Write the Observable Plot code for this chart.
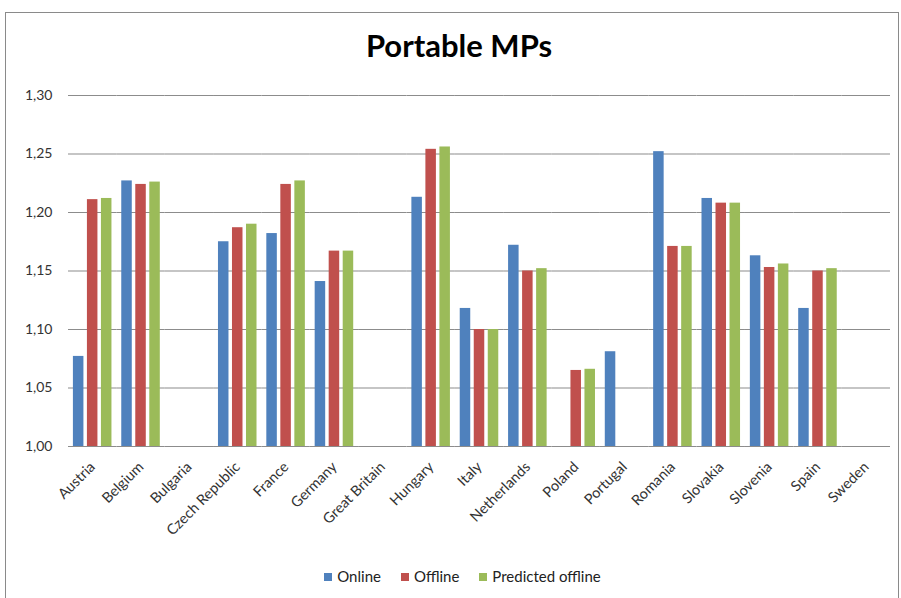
<!DOCTYPE html>
<html>
<head>
<meta charset="utf-8">
<script src="https://cdn.jsdelivr.net/npm/d3@7"></script>
<script src="https://cdn.jsdelivr.net/npm/@observablehq/plot@0.6"></script>
<style>
  html, body { margin: 0; padding: 0; background: #fff; width: 901px; height: 598px; overflow: hidden; }
  #frame { position: absolute; left: 5px; top: 12px; width: 894px; height: 620px; border: 1px solid #8a8a8a; box-sizing: border-box; }
  #title { position: absolute; left: 0; width: 918px; top: 26px; text-align: center; font: bold 31px Lato, "Open Sans", sans-serif; color: #000; }
  #chart { position: absolute; left: 0; top: 0; }
  #legend { position: absolute; left: 0; width: 925px; top: 567px; text-align: center; font: 15px Lato, "Open Sans", sans-serif; color: #222; }
  #legend span.item { display: inline-block; margin: 0 10px; }
  #legend span.sw { display: inline-block; width: 8px; height: 8px; margin-right: 5px; vertical-align: 1px; }
</style>
</head>
<body>
<div id="frame"></div>
<div id="title">Portable MPs</div>
<div id="chart"></div>
<div id="legend"></div>
<script>
const countries = ["Austria","Belgium","Bulgaria","Czech Republic","France","Germany","Great Britain","Hungary","Italy","Netherlands","Poland","Portugal","Romania","Slovakia","Slovenia","Spain","Sweden"];
const online    = [1.077,1.227,null,1.175,1.182,1.141,null,1.213,1.118,1.172,null,1.081,1.252,1.212,1.163,1.118,null];
const offline   = [1.211,1.224,null,1.187,1.224,1.167,null,1.254,1.100,1.150,1.065,null,1.171,1.208,1.153,1.150,null];
const predicted = [1.212,1.226,null,1.190,1.227,1.167,null,1.256,1.100,1.152,1.066,null,1.171,1.208,1.156,1.152,null];
const seriesNames = ["Online","Offline","Predicted offline"];
const seriesColors = ["#4F81BD","#C0504D","#9BBB59"];
const yTicks = [1.00,1.05,1.10,1.15,1.20,1.25,1.30];

const rows = [];
countries.forEach((c, i) => {
  [online, offline, predicted].forEach((arr, k) => {
    if (arr[i] != null) rows.push({country: c, series: seriesNames[k], value: arr[i]});
  });
});
const gridRows = countries.flatMap(c => yTicks.map(t => ({country: c, tick: t})));
const fmt = d => d.toFixed(2).replace(".", ",");

const chart = Plot.plot({
  width: 901,
  height: 560,
  marginTop: 95,
  marginBottom: 114,
  marginLeft: 68,
  marginRight: 11,
  style: {fontFamily: "Lato, 'Open Sans', sans-serif", fontSize: "14px", color: "#333", background: "transparent"},
  fx: {domain: countries, padding: 0, round: false, label: null},
  x: {domain: seriesNames, paddingInner: 0.25, paddingOuter: 0.35, round: false, axis: null},
  y: {domain: [1.0, 1.3], label: null},
  color: {domain: seriesNames, range: seriesColors},
  marks: [
    Plot.ruleY(gridRows, {fx: "country", y: "tick", stroke: "#8c8c8c", strokeWidth: 1.2}),
    Plot.barY(rows, {fx: "country", x: "series", y: "value", fill: "series", clip: true}),
    Plot.axisY(yTicks, {tickFormat: fmt, tickSize: 0, tickPadding: 16, fontSize: 14, fill: "#333", label: null}),
    Plot.axisFx({anchor: "bottom", tickRotate: -45, tickSize: 0, tickPadding: 18, fontSize: 14.5, fill: "#333", label: null})
  ]
});
document.getElementById("chart").appendChild(chart);

const legend = document.getElementById("legend");
seriesNames.forEach((s, k) => {
  const item = document.createElement("span");
  item.className = "item";
  const sw = document.createElement("span");
  sw.className = "sw";
  sw.style.background = seriesColors[k];
  item.appendChild(sw);
  item.appendChild(document.createTextNode(s));
  legend.appendChild(item);
});
</script>
</body>
</html>
